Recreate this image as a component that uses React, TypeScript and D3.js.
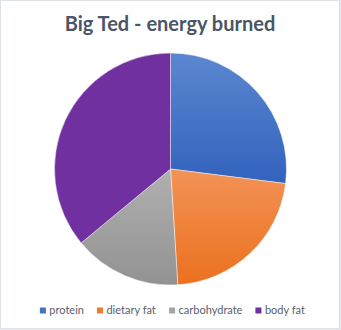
import React from "react";
import * as d3 from "d3";

const categories = ["protein", "dietary fat", "carbohydrate", "body fat"];
const values = [27, 22, 15, 36];
const title = "Big Ted - energy burned";

const gradStops: [string, string][] = [
  ["#5B87D0", "#3362BD"],
  ["#F39256", "#EB711F"],
  ["#B0B0B0", "#929292"],
  ["#7030A0", "#7030A0"],
];
const legendColors = ["#4472C4", "#ED7D31", "#A5A5A5", "#7030A0"];

const W = 341;
const H = 330;

function measure(text: string, font: string): number {
  if (typeof document === "undefined") return text.length * 6;
  const c = document.createElement("canvas");
  const ctx = c.getContext("2d")!;
  ctx.font = font;
  return ctx.measureText(text).width;
}

export default function App() {
  const cx = 170.5;
  const cy = 169;
  const r = 116;

  const pie = d3.pie<number>().sort(null).value((d) => d)(values);
  const arc = d3.arc<d3.PieArcDatum<number>>().innerRadius(0).outerRadius(r);

  const legendFont = "11px Lato";
  const widths = categories.map((c) => measure(c, legendFont));
  const marker = 6;
  const mGap = 3.5;
  const itemGap = 13;
  const total =
    widths.reduce((a, b) => a + b, 0) +
    categories.length * (marker + mGap) +
    (categories.length - 1) * itemGap;
  let x0 = 172.5 - total / 2;
  const legendItems = categories.map((c, i) => {
    const x = x0;
    x0 += marker + mGap + widths[i] + itemGap;
    return { c, x, i };
  });
  const legendY = 310.5;

  return (
    <svg
      width={W}
      height={H}
      style={{ position: "absolute", left: 0, top: 0 }}
      xmlns="http://www.w3.org/2000/svg"
    >
      <defs>
        {gradStops.map((g, i) => (
          <linearGradient key={i} id={`g${i}`} x1="0" y1="0" x2="0" y2="1">
            <stop offset="0%" stopColor={g[0]} />
            <stop offset="100%" stopColor={g[1]} />
          </linearGradient>
        ))}
      </defs>
      <rect x={0} y={0} width={W} height={H} fill="#E6EAF0" />
      <rect x={0.5} y={0.5} width={339} height={328} fill="#ffffff" stroke="#DDE2E9" />
      <text
        x={170}
        y={30.5}
        textAnchor="middle"
        fontFamily="Lato"
        fontWeight="bold"
        fontSize={20}
        fill="#4A5568"
      >
        {title}
      </text>
      <g transform={`translate(${cx},${cy})`}>
        {pie.map((p, i) => (
          <path
            key={i}
            d={arc(p) || ""}
            fill={`url(#g${i})`}
            stroke="#ffffff"
            strokeWidth={0.75}
            strokeOpacity={0.6}
          />
        ))}
      </g>
      {legendItems.map(({ c, x, i }) => (
        <g key={c}>
          <rect x={x} y={legendY - 3} width={marker} height={marker} fill={legendColors[i]} />
          <text
            x={x + marker + mGap}
            y={legendY + 3.5}
            fontFamily="Lato"
            fontSize={11}
            fill="#595E6E"
          >
            {c}
          </text>
        </g>
      ))}
    </svg>
  );
}
